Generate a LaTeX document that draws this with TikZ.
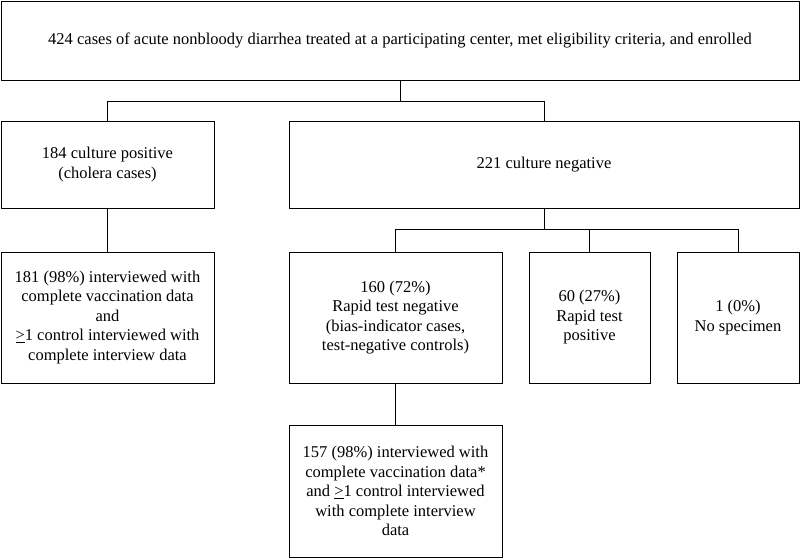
\documentclass[tikz,border=0pt]{standalone}
\usepackage{fontspec}
\setmainfont{Liberation Serif}
\usepackage{tikz}
\usetikzlibrary{positioning}

\begin{document}
\begin{tikzpicture}[x=1pt, y=-1pt,
  box/.style={draw, line width=1pt, align=center, inner sep=0pt,
    font=\fontsize{16.5}{19.5}\selectfont},
  link/.style={line width=1pt}]
\useasboundingbox (0,0) rectangle (800,558);
\node[box, minimum width=798pt, minimum height=79pt] (enrol) at (400,40.5) {424 cases of acute nonbloody diarrhea treated at a participating center, met eligibility criteria, and enrolled};
\node[box, minimum width=213pt, minimum height=87pt] (pos) at (107.5,164.5) {184 culture positive\\(cholera cases)};
\node[box, minimum width=510pt, minimum height=87pt] (neg) at (544,164.5) {221 culture negative};
\node[box, minimum width=213pt, minimum height=131pt] (full) at (107.5,317.5) {181 (98\%) interviewed with\\complete vaccination data\\and\\\underline{>}1 control interviewed with\\complete interview data};
\node[box, minimum width=213pt, minimum height=131pt] (rneg) at (395.5,317.5) {160 (72\%)\\Rapid test negative\\(bias-indicator cases,\\test-negative controls)};
\node[box, minimum width=121pt, minimum height=131pt] (rpos) at (589.5,317.5) {60 (27\%)\\Rapid test\\positive};
\node[box, minimum width=122pt, minimum height=131pt] (nospec) at (738,317.5) {1 (0\%)\\No specimen};
\node[box, minimum width=213pt, minimum height=132pt] (vac) at (395.5,491) {157 (98\%) interviewed with\\complete vaccination data*\\and \underline{>}1 control interviewed\\with complete interview\\data};
% connectors
\draw[link] (enrol.south) -- ++(0,20.5) -| (pos.north);
\draw[link] (enrol.south) -- ++(0,20.5) -| (neg.north);
\draw[link] (pos.south) -- (full.north);
\foreach \n in {rneg,rpos,nospec} \draw[link] (neg.south) -- ++(0,21) -| (\n.north);
\draw[link] (rneg.south) -- (vac.north);
\end{tikzpicture}
\end{document}
